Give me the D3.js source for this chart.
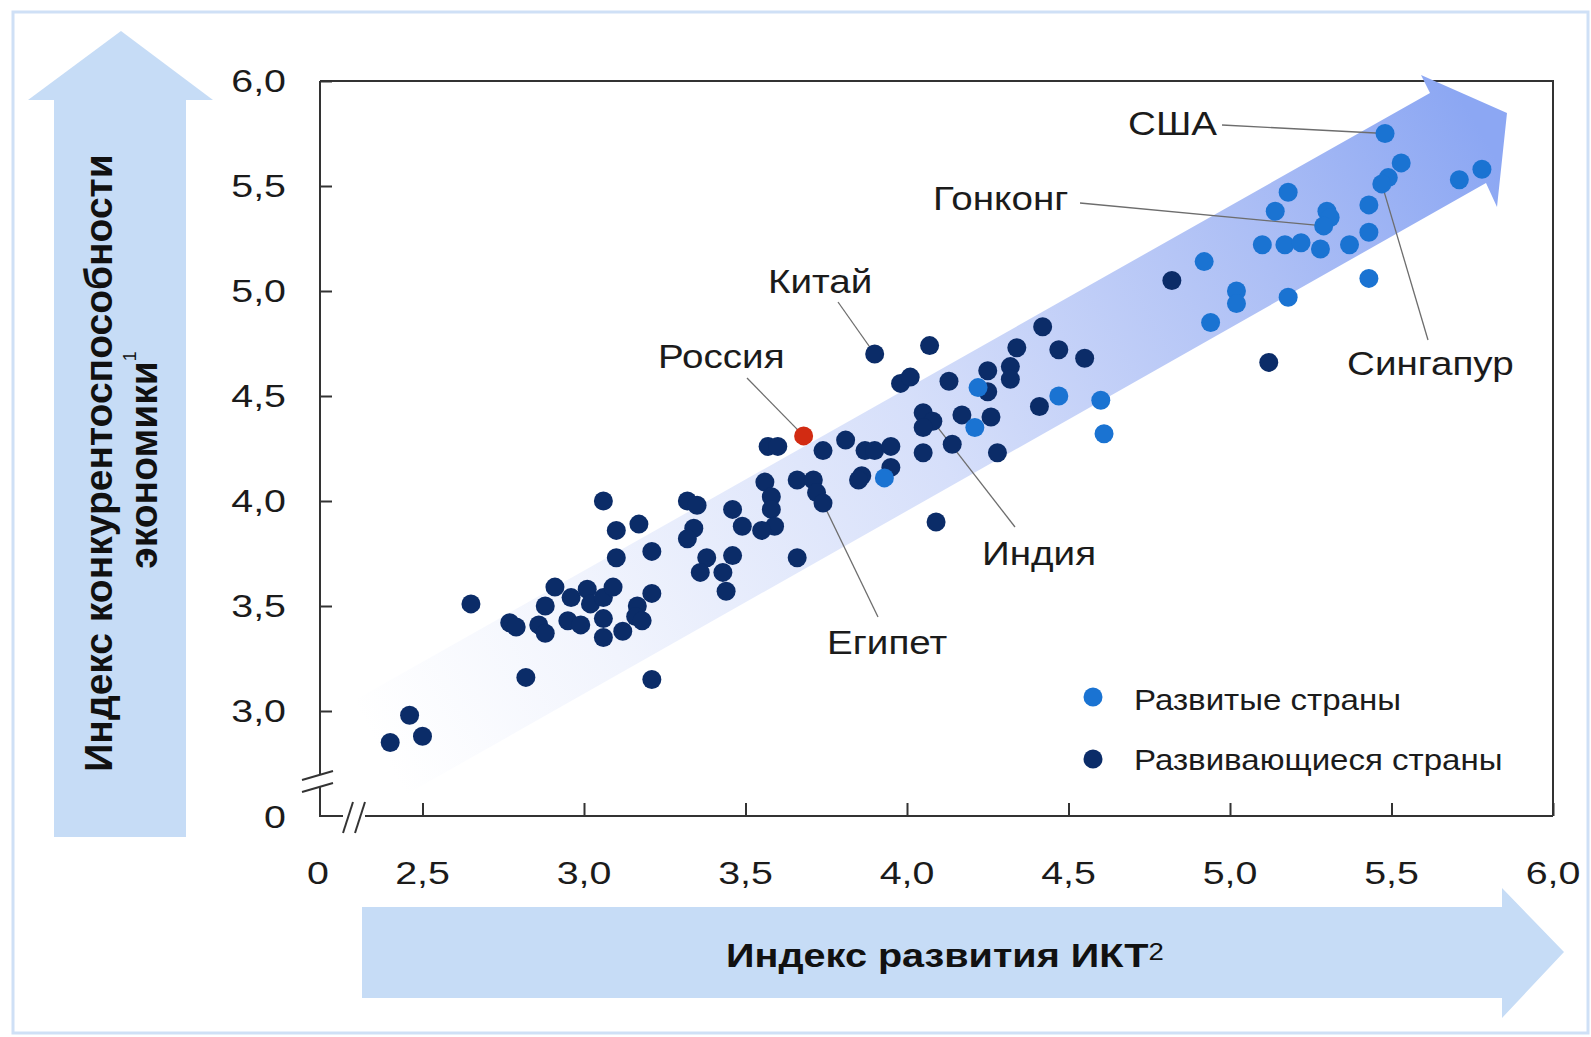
<!DOCTYPE html>
<html lang="ru">
<head>
<meta charset="utf-8">
<title>ИКТ и конкурентоспособность</title>
<style>
  body { margin: 0; background: #fff; }
  svg { display: block; font-family: "Liberation Sans", Arial, sans-serif; }
</style>
</head>
<body>
<svg width="1591" height="1037"></svg>
<script src="https://d3js.org/d3.v7.min.js"></script>
<script>

// ---- data (ICT index, competitiveness index) ----
const developing = [
  [2.40,2.85],[2.46,2.98],[2.50,2.88],[2.65,3.51],[2.77,3.42],[2.79,3.40],[2.82,3.16],
  [2.91,3.59],[2.88,3.50],[2.86,3.41],[2.88,3.37],[2.96,3.54],[2.95,3.43],[2.99,3.41],
  [3.01,3.58],[3.02,3.51],[3.06,3.54],[3.09,3.59],[3.06,3.44],[3.06,3.35],[3.12,3.38],
  [3.165,3.50],[3.16,3.45],[3.18,3.43],[3.21,3.56],[3.21,3.15],
  [3.06,4.00],[3.10,3.86],[3.17,3.89],[3.10,3.73],[3.21,3.76],
  [3.32,4.00],[3.35,3.98],[3.34,3.87],[3.32,3.82],[3.46,3.96],[3.49,3.88],[3.38,3.73],
  [3.36,3.66],[3.46,3.74],[3.43,3.66],[3.44,3.57],[3.56,4.09],[3.58,4.02],[3.58,3.96],
  [3.59,3.88],[3.55,3.86],[3.66,4.10],[3.71,4.10],[3.72,4.04],[3.74,3.99],[3.66,3.73],
  [3.57,4.26],[3.60,4.26],[3.74,4.24],[3.81,4.29],[3.87,4.24],[3.90,4.24],[3.86,4.12],[3.85,4.10],
  [3.90,4.70],[4.07,4.74],[4.42,4.83],[4.34,4.73],[4.47,4.72],[4.55,4.68],[3.98,4.56],[4.01,4.59],
  [4.13,4.57],[4.25,4.62],[4.32,4.64],[4.32,4.58],[4.25,4.52],[4.41,4.45],[4.05,4.42],[4.08,4.38],
  [4.05,4.35],[4.17,4.41],[4.26,4.40],[4.14,4.27],[4.28,4.23],[4.05,4.23],[4.09,3.90],[3.95,4.26],
  [3.95,4.16],[4.82,5.05],[5.12,4.66]
]
const developed = [
  [4.22,4.54],[4.47,4.50],[4.60,4.48],[4.61,4.32],[4.21,4.35],[3.93,4.11],
  [5.48,5.75],[5.53,5.61],[5.49,5.54],[5.47,5.51],[5.43,5.41],[5.43,5.28],[5.37,5.22],
  [5.43,5.06],[5.71,5.53],[5.78,5.58],[5.18,5.47],[5.14,5.38],[5.30,5.38],[5.31,5.35],
  [5.29,5.31],[5.10,5.22],[5.17,5.22],[5.22,5.23],[5.28,5.20],[4.92,5.14],[5.02,5.00],
  [5.02,4.94],[5.18,4.97],[4.94,4.85]
]
const russia = [[3.68,4.31]]

const xTicks = [2.5, 3, 3.5, 4, 4.5, 5, 5.5, 6]
const yTicks = [3, 3.5, 4, 4.5, 5, 5.5, 6]
const legendLabels = ["Развитые страны", "Развивающиеся страны"]
const xTitle = "Индекс развития ИКТ"
const yTitle = ["Индекс конкурентоспособности", "экономики"]

// country callouts: name and the point it refers to
const callouts = [
  {name: "США",      at: [5.48, 5.75]},
  {name: "Гонконг",  at: [5.29, 5.31]},
  {name: "Китай",    at: [3.90, 4.70]},
  {name: "Россия",   at: [3.68, 4.31]},
  {name: "Индия",    at: [4.08, 4.38]},
  {name: "Египет",   at: [3.74, 3.99]},
  {name: "Сингапур", at: [5.47, 5.51]}
]

// where the callout text sits (text start, baseline) and where its line starts
const calloutLayout = {
  "США":      {tx: 1128, ty: 135, lx: 1222, ly: 125},
  "Гонконг":  {tx: 933,  ty: 210, lx: 1080, ly: 203},
  "Китай":    {tx: 768,  ty: 293, lx: 838,  ly: 302},
  "Россия":   {tx: 658,  ty: 368, lx: 747,  ly: 378},
  "Индия":    {tx: 982,  ty: 565, lx: 1015, ly: 527},
  "Египет":   {tx: 827,  ty: 654, lx: 878,  ly: 617},
  "Сингапур": {tx: 1347, ty: 375, lx: 1428, ly: 340}
}

const colors = {dark: "#0b2c68", light: "#1a73d2", red: "#d22b12", pale: "#c6dcf6"}

// ---- setup ----
const svg = d3.select("svg")
const plotLeft = 320, plotRight = 1553, plotTop = 81, plotBottom = 816

const x = d3.scaleLinear().domain([2.5, 6]).range([422.5, plotRight])
const y = d3.scaleLinear().domain([2.5, 6]).range([plotBottom, plotTop])

// text that is a bit wider than the font gives
function wideText(parent, tx, ty, str, size, sx, anchor, weight) {
  return parent.append("text")
    .attr("transform", "translate(" + tx + "," + ty + ") scale(" + sx + ",1)")
    .attr("text-anchor", anchor || "start")
    .attr("font-size", size)
    .attr("font-weight", weight || "normal")
    .attr("fill", "#1b1b1b")
    .text(str)
}

// outer border
svg.append("rect")
  .attr("x", 13).attr("y", 12).attr("width", 1575).attr("height", 1021)
  .attr("fill", "#fff").attr("stroke", "#cfe0f6").attr("stroke-width", 3)

// side arrows
svg.append("path")
  .attr("d", "M54,837 L54,100 L28,100 L121,31 L213,100 L186,100 L186,837 Z")
  .attr("fill", colors.pale)
svg.append("path")
  .attr("d", "M362,907 L1502,907 L1502,888 L1564,952 L1502,1018 L1502,998 L362,998 Z")
  .attr("fill", colors.pale)

// y title (rotated)
svg.append("text")
  .attr("transform", "translate(112,463) rotate(-90)")
  .attr("text-anchor", "middle")
  .attr("font-size", 39).attr("font-weight", "bold").attr("fill", "#111")
  .text(yTitle[0])
const yt2 = svg.append("text")
  .attr("transform", "translate(157,460) rotate(-90)")
  .attr("text-anchor", "middle")
  .attr("font-size", 39).attr("font-weight", "bold").attr("fill", "#111")
  .text(yTitle[1])
yt2.append("tspan").attr("font-size", 18).attr("font-weight", "normal")
  .attr("dy", -21).text("1")

// x title
const xt = wideText(svg, 945, 967, xTitle, 33, 1.2, "middle", "bold")
xt.attr("fill", "#111")
xt.append("tspan").attr("font-size", 23).attr("font-weight", "normal")
  .attr("dy", -7).text("2")

// frame (top + right)
svg.append("path")
  .attr("d", "M" + plotLeft + "," + plotTop + " L" + plotRight + "," + plotTop + " L" + plotRight + "," + plotBottom)
  .attr("fill", "none").attr("stroke", "#333").attr("stroke-width", 2)

// gradient arrow
const defs = svg.append("defs")
const grad = defs.append("linearGradient")
  .attr("id", "trend").attr("gradientUnits", "userSpaceOnUse")
  .attr("x1", 380).attr("y1", 750).attr("x2", 1480).attr("y2", 130)
grad.selectAll("stop")
  .data([[0, "#ffffff"], [0.2, "#f1f4fd"], [0.5, "#d6dffa"], [0.8, "#adbff5"], [1, "#8ca7f3"]])
  .enter().append("stop")
  .attr("offset", d => d[0]).attr("stop-color", d => d[1])

svg.append("path")
  .attr("d", "M355,700 L1430,93 L1421,75 L1507,113 L1497,207 L1486,183 L400,798 Z")
  .attr("fill", "url(#trend)")

// y axis
const yAxis = d3.axisLeft(y).tickValues(yTicks).tickSize(-12).tickFormat("")
const gy = svg.append("g").attr("transform", "translate(" + plotLeft + ",0)").call(yAxis)
gy.select(".domain").remove()
gy.selectAll("line").attr("stroke", "#333").attr("stroke-width", 2)

yTicks.forEach(function(v) {
  wideText(svg, 286, y(v) + 11, d3.format(".1f")(v).replace(".", ","), 32, 1.23, "end")
})
wideText(svg, 286, plotBottom + 12, "0", 32, 1.23, "end")

// x axis
const xAxis = d3.axisBottom(x).tickValues(xTicks).tickSize(-13).tickFormat("")
const gx = svg.append("g").attr("transform", "translate(0," + plotBottom + ")").call(xAxis)
gx.select(".domain").remove()
gx.selectAll("line").attr("stroke", "#333").attr("stroke-width", 2)

xTicks.forEach(function(v) {
  wideText(svg, x(v), 884, d3.format(".1f")(v).replace(".", ","), 32, 1.23, "middle")
})
wideText(svg, plotLeft - 2, 884, "0", 32, 1.23, "middle")

// axis lines with breaks
const b = plotBottom, l0 = plotLeft
const axisLines = [
  [[l0, plotTop], [l0, b - 41]],
  [[l0, b - 29], [l0, b], [l0 + 23, b]],
  [[l0 + 45, b], [plotRight, b]],
  [[302, b - 36], [333, b - 45]],
  [[302, b - 24], [333, b - 33]],
  [[343, b + 17], [353, b - 14]],
  [[355, b + 17], [365, b - 14]]
]
svg.append("g").selectAll("path").data(axisLines).enter().append("path")
  .attr("d", d => d3.line()(d))
  .attr("fill", "none").attr("stroke", "#333").attr("stroke-width", 2)

// callout lines
svg.append("g").selectAll("line").data(callouts).enter().append("line")
  .attr("x1", d => calloutLayout[d.name].lx)
  .attr("y1", d => calloutLayout[d.name].ly)
  .attr("x2", d => x(d.at[0]))
  .attr("y2", d => y(d.at[1]))
  .attr("stroke", "#6d6d6d").attr("stroke-width", 1.3)

// points
function dots(data, color) {
  svg.append("g").selectAll("circle").data(data).enter().append("circle")
    .attr("cx", d => x(d[0]))
    .attr("cy", d => y(d[1]))
    .attr("r", 9.5)
    .attr("fill", color)
}
dots(developing, colors.dark)
dots(developed, colors.light)
dots(russia, colors.red)

// callout labels
callouts.forEach(function(c) {
  const l = calloutLayout[c.name]
  wideText(svg, l.tx, l.ty, c.name, 33, 1.17, "start")
})

// legend
const legend = svg.append("g")
legendLabels.forEach(function(lbl, i) {
  legend.append("circle")
    .attr("cx", 1093).attr("cy", 697 + i * 62).attr("r", 9.5)
    .attr("fill", i === 0 ? colors.light : colors.dark)
  wideText(legend, 1134, 710 + i * 60, lbl, 29, 1.14, "start")
})
</script>
</body>
</html>
